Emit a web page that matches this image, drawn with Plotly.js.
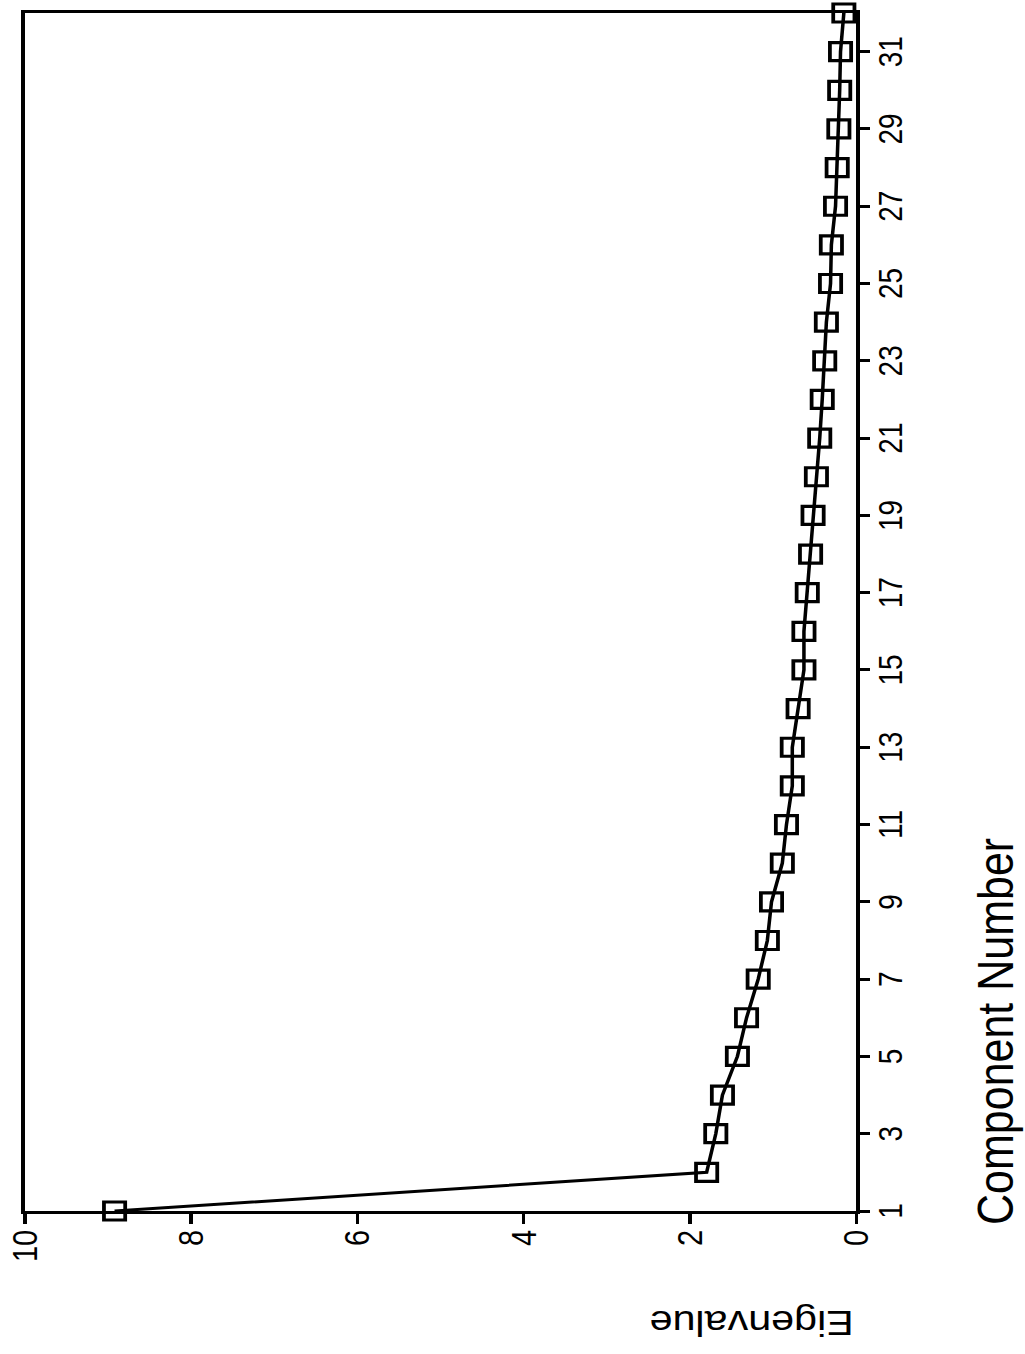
<!DOCTYPE html>
<html>
<head>
<meta charset="utf-8">
<script src="https://cdn.plot.ly/plotly-3.0.1.min.js"></script>
<style>
  html, body { margin: 0; padding: 0; background: #ffffff; overflow: hidden; width: 1025px; height: 1354px; }
  #chart {
    position: absolute; left: 0; top: 0;
    width: 1354px; height: 869px;
    transform-origin: 0 0;
    transform: translateY(1354px) rotate(-90deg) scaleY(1.1795);
  }
</style>
</head>
<body>
<div id="chart"></div>
<script>
// Scree plot data (component number vs eigenvalue)
const componentNumbers = [1, 2, 3, 4, 5, 6, 7, 8, 9, 10, 11, 12, 13, 14, 15, 16,
                          17, 18, 19, 20, 21, 22, 23, 24, 25, 26, 27, 28, 29, 30, 31, 32];
const eigenvalues = [8.92, 1.80, 1.69, 1.61, 1.43, 1.32, 1.18, 1.07, 1.02, 0.89, 0.84, 0.77,
                     0.77, 0.70, 0.63, 0.63, 0.59, 0.55, 0.52, 0.48, 0.44, 0.41, 0.38, 0.36,
                     0.31, 0.30, 0.25, 0.23, 0.21, 0.20, 0.19, 0.15];
const componentTicks = [1, 3, 5, 7, 9, 11, 13, 15, 17, 19, 21, 23, 25, 27, 29, 31];
const eigenTicks = [0, 2, 4, 6, 8, 10];
const xTitle = "Component Number";
const yTitle = "Eigenvalue";

const FONT = "Liberation Sans, Arial, Helvetica, sans-serif";

const trace = {
  x: componentNumbers,
  y: eigenvalues,
  type: "scatter",
  mode: "lines+markers",
  line: { color: "#000000", width: 3 },
  marker: { symbol: "square-open", size: 18, color: "#000000", line: { color: "#000000", width: 3.2 } },
  cliponaxis: false,
  showlegend: false
};

const layout = {
  width: 1354,
  height: 869,
  margin: { l: 143, r: 13, t: 21, b: 143, pad: 0 },
  paper_bgcolor: "#ffffff",
  plot_bgcolor: "#ffffff",
  font: { family: FONT, color: "#000000", size: 28 },
  xaxis: {
    range: [1, 32],
    tickvals: componentTicks,
    ticktext: componentTicks.map(String),
    ticks: "outside",
    ticklen: 8.5,
    tickwidth: 3,
    tickcolor: "#000000",
    showline: true,
    linewidth: 2.8,
    linecolor: "#000000",
    mirror: true,
    showgrid: false,
    zeroline: false,
    tickfont: { family: FONT, size: 28, color: "#000000" },
    ticklabelstandoff: -6,
    tickangle: 0
  },
  yaxis: {
    range: [0, 10],
    tickvals: eigenTicks,
    ticktext: eigenTicks.map(String),
    ticks: "outside",
    ticklen: 10,
    tickwidth: 3,
    tickcolor: "#000000",
    showline: true,
    linewidth: 3,
    linecolor: "#000000",
    mirror: true,
    showgrid: false,
    zeroline: false,
    tickfont: { family: FONT, size: 29, color: "#000000" },
    tickangle: 0
  },
  annotations: [
    {
      text: xTitle,
      xref: "paper", yref: "paper",
      x: -0.0134, y: -0.168,
      xanchor: "left", yanchor: "middle",
      showarrow: false,
      font: { family: FONT, size: 43, color: "#000000" }
    },
    {
      text: yTitle,
      xref: "paper", yref: "paper",
      x: -0.112, y: 0,
      xanchor: "left", yanchor: "bottom",
      textangle: -90,
      showarrow: false,
      font: { family: FONT, size: 35, color: "#000000" }
    }
  ]
};

Plotly.newPlot("chart", [trace], layout, { staticPlot: true, displayModeBar: false });
</script>
</body>
</html>
